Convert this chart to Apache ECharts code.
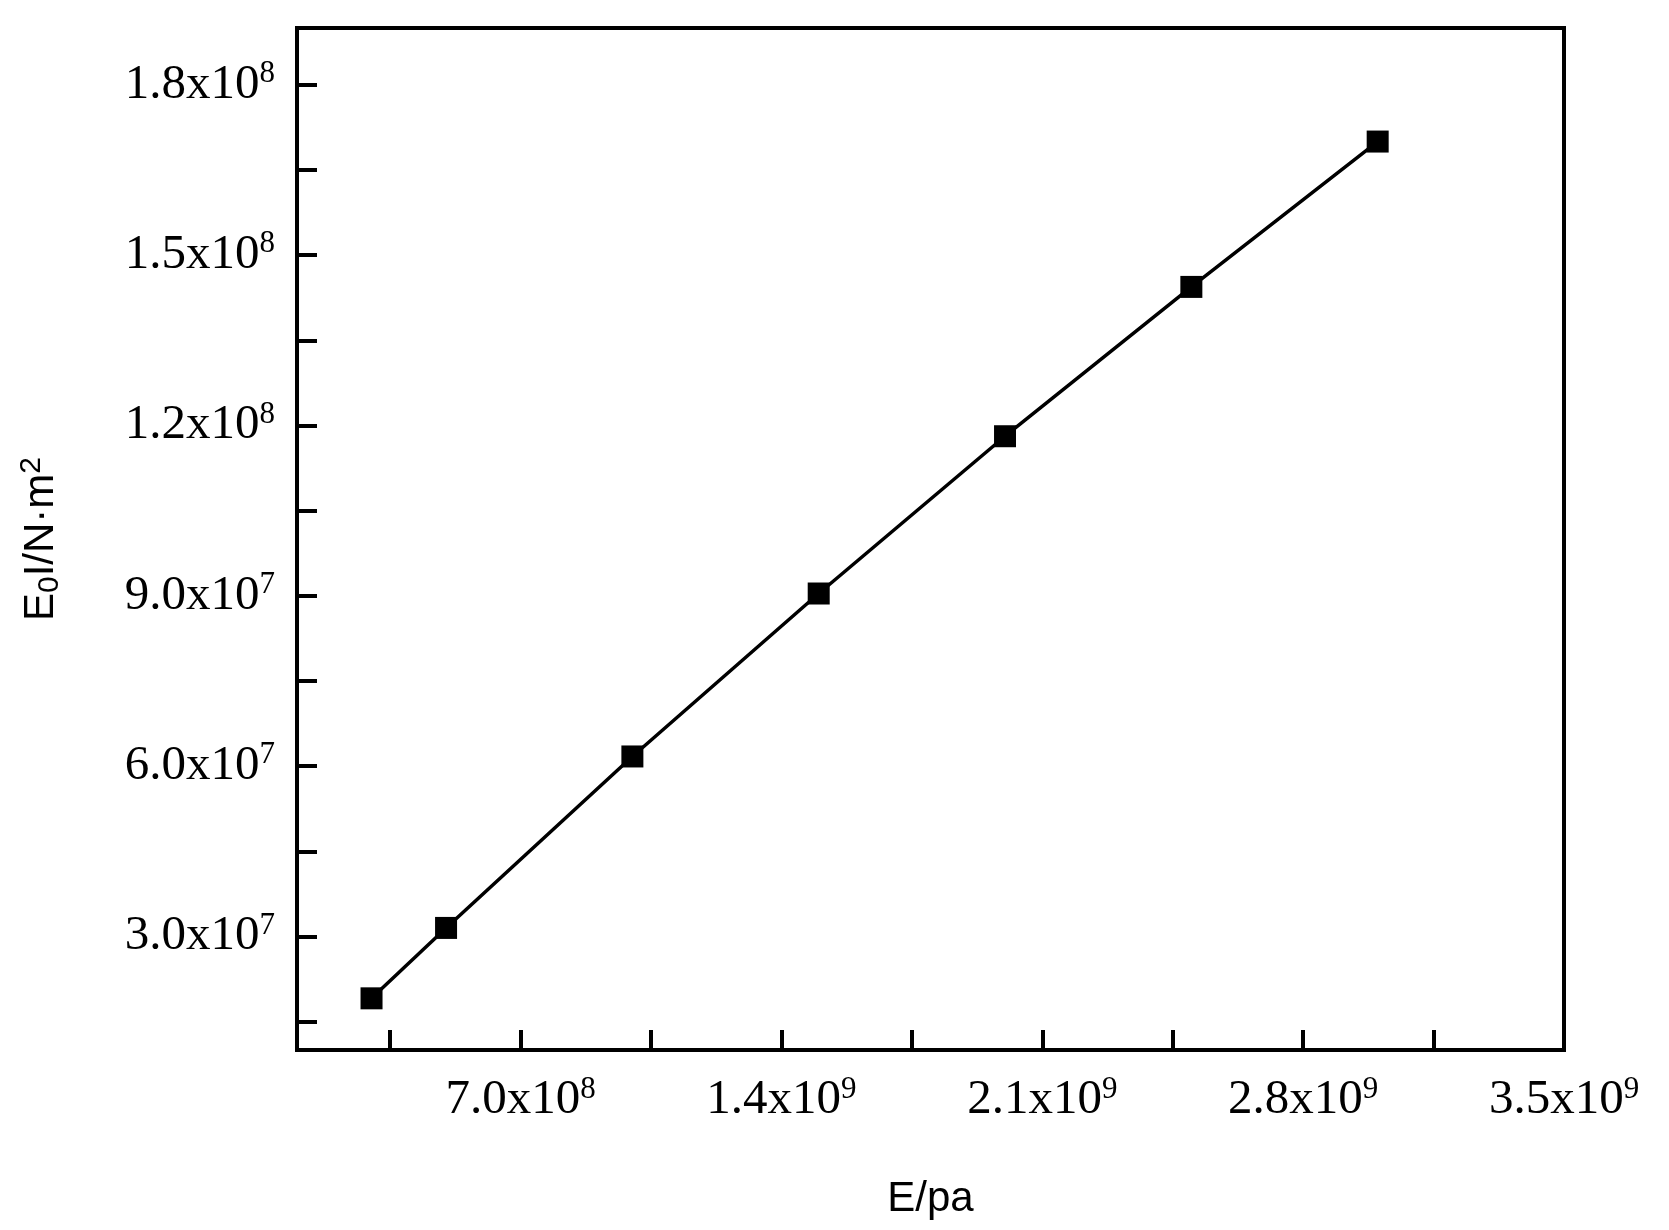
<!DOCTYPE html>
<html>
<head>
<meta charset="utf-8">
<title>E0I vs E</title>
<script src="https://cdn.jsdelivr.net/npm/echarts@6/dist/echarts.min.js"></script>
<style>
  html, body { margin: 0; padding: 0; background: #fff; }
  #main { width: 1669px; height: 1230px; }
</style>
</head>
<body>
<div id="main"></div>
<script>
var eValues = [3.0e8, 5.0e8, 1.0e9, 1.5e9, 2.0e9, 2.5e9, 3.0e9];
var e0iValues = [1.91e7, 3.15e7, 6.17e7, 9.04e7, 1.181e8, 1.444e8, 1.70e8];
var xLabelValues = [7.0e8, 1.4e9, 2.1e9, 2.8e9, 3.5e9];
var xTickValues = [3.5e8, 7.0e8, 1.05e9, 1.4e9, 1.75e9, 2.1e9, 2.45e9, 2.8e9, 3.15e9, 3.5e9];
var yLabelValues = [3.0e7, 6.0e7, 9.0e7, 1.2e8, 1.5e8, 1.8e8];
var yTickValues = [1.5e7, 3.0e7, 4.5e7, 6.0e7, 7.5e7, 9.0e7, 1.05e8, 1.2e8, 1.35e8, 1.5e8, 1.65e8, 1.8e8];

var myChart = echarts.init(document.getElementById('main'));

// 科学计数法标签：1.4x10^9
function sci(v) {
  var exp = Math.floor(Math.log10(v) + 1e-9);
  var m = (v / Math.pow(10, exp)).toFixed(1);
  return m + 'x10{sup|' + exp + '}';
}
var labelFont = {
  fontFamily: 'Liberation Serif', fontSize: 49, color: '#000',
  rich: { sup: { fontFamily: 'Liberation Serif', fontSize: 31, verticalAlign: 'top', padding: [0, 0, 22, 0], color: '#000' } }
};

myChart.setOption({
  animation: false,
  grid: { left: 297, top: 28, width: 1267, height: 1022, show: true, borderColor: '#000', borderWidth: 4, backgroundColor: 'transparent' },
  xAxis: {
    type: 'value', min: 1e8, max: 3.5e9,
    name: 'E/pa', nameLocation: 'middle', nameGap: 128,
    nameTextStyle: { fontFamily: 'Liberation Sans', fontSize: 42, color: '#000' },
    axisLine: { lineStyle: { color: '#000', width: 4 } },
    axisTick: { inside: true, length: 20, lineStyle: { width: 4, color: '#000' }, customValues: xTickValues },
    axisLabel: Object.assign({ margin: 24, customValues: xLabelValues, formatter: sci }, labelFont),
    splitLine: { show: false }
  },
  yAxis: {
    type: 'value', min: 1e7, max: 1.9e8,
    name: 'E{sub|0}I/N·m{sup|2}', nameLocation: 'middle', nameGap: 232, nameRotate: 90,
    nameTextStyle: {
      fontFamily: 'Liberation Sans', fontSize: 42, color: '#000',
      rich: {
        sub: { fontFamily: 'Liberation Sans', fontSize: 30, color: '#000', verticalAlign: 'bottom', padding: [18, 0, 0, 0] },
        sup: { fontFamily: 'Liberation Sans', fontSize: 30, color: '#000', verticalAlign: 'top', padding: [0, 0, 18, 0] }
      }
    },
    axisLine: { lineStyle: { color: '#000', width: 4 } },
    axisTick: { inside: true, length: 20, lineStyle: { width: 4, color: '#000' }, customValues: yTickValues },
    axisLabel: Object.assign({ margin: 22, customValues: yLabelValues, formatter: sci }, labelFont),
    splitLine: { show: false }
  },
  series: [{
    type: 'line',
    data: eValues.map(function (e, i) { return [e, e0iValues[i]]; }),
    symbol: 'rect', symbolSize: 22,
    itemStyle: { color: '#000' },
    lineStyle: { color: '#000', width: 3.5 }
  }]
});
</script>
</body>
</html>
